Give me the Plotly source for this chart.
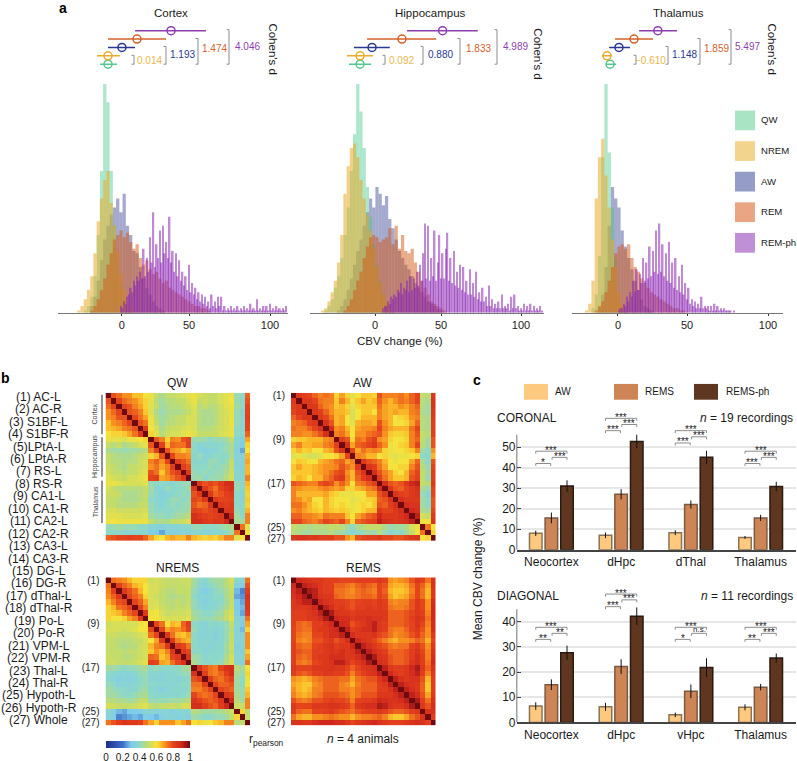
import plotly.graph_objects as go

W, H = 797, 761

STATES = ["QW", "NREM", "AW", "REM", "REM-ph"]
STATE_FILL = ["rgb(70,200,140)", "rgb(232,170,40)", "rgb(30,40,130)", "rgb(212,85,20)", "rgb(140,40,180)"]
STATE_ALPHA = [0.45, 0.55, 0.4, 0.5, 0.55]
STATE_LINE = ["#55C68F", "#E9AC2F", "#2B3990", "#D4622A", "#8E3FB0"]
DRAW_ORDER = [2, 0, 1, 3, 4]
BIN_WIDTH = [2, 2, 2, 2, 1]

# histograms, height relative to tallest bar; *_X0 is the first bin
CTX_X0 = [-14, -18, -10, -10, 8]
CTX_QW = [1, 3, 7, 16, 34, 62, 100, 92, 62, 38, 24, 13, 6, 3, 1]
CTX_NREM = [1, 3, 6, 10, 16, 26, 40, 50, 58, 62, 48, 38, 27, 17, 10, 5, 2, 1]
CTX_AW = [3, 7, 14, 23, 32, 38, 43, 46, 50, 44, 52, 38, 34, 27, 26, 20, 15, 11, 8, 5, 3, 2, 1]
CTX_REM = [1, 3, 6, 10, 15, 21, 26, 32, 34, 36, 33, 35, 31, 28, 30, 24, 21, 23, 19, 17, 18, 15, 13, 14, 11, 10, 9, 8, 7, 6, 5, 4, 3, 3, 2, 2, 1]
CTX_PH = [3, 2, 5, 4, 7, 8, 11, 9, 14, 12, 16, 14, 18, 15, 28, 16, 24, 18, 33, 22, 44, 20, 30, 24, 36, 22, 38, 26, 31,
          24, 42, 22, 27, 18, 26, 16, 23, 14, 18, 12, 16, 10, 21, 9, 13, 8, 11, 6, 9, 5, 8, 4, 7,
          3, 5, 2, 8, 3, 5, 2, 7, 3, 7, 1, 3, 1, 2, 1, 3, 1, 2, 1, 3, 1, 2, 1, 3, 1, 2, 1, 4, 1, 2,
          1, 6, 1, 2, 1, 3, 1, 3, 1, 4, 1, 2, 1, 3, 1, 2, 1, 2, 1, 3]

HIP_X0 = [-22, -24, -14, -10, 14]
HIP_QW = [1, 3, 6, 11, 16, 24, 34, 46, 62, 78, 100, 88, 72, 55, 42, 30, 21, 14, 9, 5, 3, 1]
HIP_NREM = [1, 2, 5, 9, 14, 22, 34, 52, 64, 72, 74, 68, 58, 50, 43, 36, 28, 20, 13, 8, 5, 3, 1]
HIP_AW = [1, 3, 6, 10, 15, 21, 27, 32, 38, 44, 50, 46, 55, 52, 47, 51, 41, 37, 32, 27, 24, 21, 19, 16, 13, 11, 9, 7, 5, 4, 3, 2, 1]
HIP_REM = [1, 3, 6, 10, 14, 18, 24, 29, 33, 34, 33, 31, 32, 33, 37, 30, 38, 28, 34, 27, 26, 28, 22, 18, 14, 11, 8, 5, 4, 3, 2, 1]
HIP_PH = [2, 3, 3, 5, 4, 7, 6, 8, 7, 10, 9, 13, 8, 11, 10, 14, 9, 16, 10, 15, 11, 18, 12, 21, 14, 26, 39,
          15, 38, 14, 24, 16, 36, 14, 22, 34, 15, 26, 15, 28, 35, 14, 24, 13, 27, 12, 18,
          11, 21, 10, 20, 9, 14, 8, 19, 8, 13, 7, 18, 6, 9, 5, 11, 5, 7, 3, 12,
          3, 6, 2, 4, 2, 5, 2, 8, 2, 3, 2, 4, 1, 7, 2, 8, 2, 3, 1, 2,
          1, 4, 1, 3, 1, 4, 1, 3, 1, 2, 1, 3, 1]

THA_X0 = [-8, -12, -4, -6, 8]
THA_QW = [2, 8, 25, 68, 100, 70, 46, 24, 8, 3, 1]
THA_NREM = [1, 4, 14, 50, 68, 76, 60, 46, 32, 20, 9, 4, 1]
THA_AW = [2, 8, 20, 38, 55, 50, 46, 36, 29, 24, 19, 14, 10, 6, 3, 2, 1]
THA_REM = [1, 3, 5, 9, 14, 20, 26, 29, 30, 28, 30, 24, 20, 18, 15, 13, 11, 9, 8, 7, 6, 5, 4, 3, 2, 2, 1, 1]
THA_PH = [1, 2, 2, 4, 3, 7, 5, 9, 7, 14, 9, 19, 10, 17, 13, 24, 14, 22, 15, 29, 16, 27, 18, 36, 17, 39, 18, 30,
          16, 26, 14, 31, 13, 22, 11, 24, 10, 16, 9, 21, 8, 13, 6, 11, 4, 6, 3, 5,
          2, 4, 2, 7, 2, 3, 2, 3, 1, 3, 1, 4, 1, 3, 1, 2, 1, 2, 1, 1, 1, 1, 0, 1, 0]

# mean and spread above each histogram, QW first
RANKS = [1, 2, 3, 4, 5]
CTX_MEAN = [0, 0, 8.6, 17.9, 38.9]
CTX_LOW = [-4.9, -6.8, 0, 0, 16.7]
CTX_HIGH = [5.6, 7.4, 16.7, 35.8, 60.5]
HIP_MEAN = [-0.6, -0.6, 6.9, 25.6, 51]
HIP_LOW = [-7.5, -8.8, -4.4, 3.8, 28.8]
HIP_HIGH = [6.3, 7.5, 18, 47, 73]
THA_MEAN = [2.5, 0.6, 8, 17.3, 32]
THA_LOW = [0, -2.5, 1.9, 5.6, 20.4]
THA_HIGH = [6.2, 3.7, 14.8, 29, 43.8]

CTX_D = ["0.014", "1.193", "1.474", "4.046"]
HIP_D = ["0.092", "0.880", "1.833", "4.989"]
THA_D = ["\u22120.610", "1.148", "1.859", "5.497"]

REGIONS = ["(1) AC-L", "(2) AC-R", "(3) S1BF-L", "(4) S1BF-R", "(5)LPtA-L", "(6) LPtA-R", "(7) RS-L", "(8) RS-R",
           "(9) CA1-L", "(10) CA1-R", "(11) CA2-L", "(12) CA2-R", "(13) CA3-L", "(14) CA3-R", "(15) DG-L", "(16) DG-R",
           "(17) dThal-L", "(18) dThal-R", "(19) Po-L", "(20) Po-R", "(21) VPM-L", "(22) VPM-R", "(23) Thal-L",
           "(24) Thal-R", "(25) Hypoth-L", "(26) Hypoth-R", "(27) Whole"]
ROW_TICKS = [0, 8, 16, 24, 26]
ROW_TICK_TEXT = ["(1)", "(9)", "(17)", "(25)", "(27)"]

# correlation x 100, lower triangle, read cell by cell
QW_TRI = [
    [100],
    [78, 100],
    [75, 80, 100],
    [70, 75, 80, 100],
    [70, 72, 78, 78, 100],
    [65, 70, 72, 76, 80, 100],
    [65, 66, 68, 72, 74, 78, 100],
    [60, 62, 62, 64, 68, 74, 84, 100],
    [58, 57, 56, 55, 58, 58, 60, 62, 100],
    [50, 48, 50, 46, 48, 50, 54, 56, 78, 100],
    [46, 44, 44, 42, 44, 44, 46, 48, 72, 82, 100],
    [50, 48, 46, 46, 46, 48, 50, 52, 62, 66, 78, 100],
    [50, 48, 48, 46, 48, 48, 52, 54, 72, 76, 70, 80, 100],
    [52, 50, 48, 46, 50, 50, 52, 54, 70, 74, 68, 72, 82, 100],
    [54, 50, 50, 48, 50, 50, 54, 56, 78, 74, 64, 72, 78, 82, 100],
    [56, 54, 52, 50, 54, 54, 56, 58, 80, 82, 68, 70, 74, 78, 84, 100],
    [58, 58, 56, 54, 54, 54, 54, 56, 42, 40, 40, 38, 38, 40, 42, 42, 100],
    [54, 50, 48, 48, 48, 48, 48, 50, 44, 36, 36, 42, 38, 40, 40, 44, 84, 100],
    [52, 52, 50, 46, 46, 46, 48, 50, 42, 38, 34, 36, 38, 40, 42, 40, 78, 84, 100],
    [50, 50, 48, 46, 46, 46, 48, 50, 40, 38, 36, 38, 42, 42, 40, 42, 80, 78, 84, 100],
    [50, 50, 48, 48, 48, 48, 50, 50, 42, 38, 36, 40, 42, 40, 42, 42, 78, 74, 76, 84, 100],
    [54, 54, 52, 52, 52, 52, 52, 54, 42, 40, 40, 40, 40, 42, 42, 44, 82, 80, 78, 80, 84, 100],
    [56, 56, 56, 54, 54, 54, 54, 56, 44, 42, 42, 40, 42, 44, 46, 48, 88, 84, 82, 80, 82, 84, 100],
    [58, 60, 58, 58, 58, 58, 58, 58, 50, 46, 46, 46, 50, 50, 52, 54, 88, 88, 84, 82, 84, 84, 90, 100],
    [42, 42, 44, 42, 42, 42, 40, 40, 36, 36, 34, 36, 36, 36, 38, 38, 42, 42, 40, 40, 40, 42, 44, 46, 100],
    [40, 40, 40, 38, 38, 38, 38, 38, 32, 30, 26, 34, 34, 34, 36, 36, 38, 38, 36, 36, 38, 38, 40, 44, 74, 100],
    [76, 78, 80, 80, 82, 80, 80, 76, 68, 62, 60, 66, 68, 66, 66, 72, 66, 64, 62, 64, 62, 66, 72, 72, 56, 60, 100],
]

AW_TRI = [
    [100],
    [84, 100],
    [82, 84, 100],
    [80, 84, 84, 100],
    [76, 80, 84, 84, 100],
    [72, 74, 76, 82, 84, 100],
    [74, 72, 72, 76, 80, 86, 100],
    [72, 72, 70, 70, 74, 78, 88, 100],
    [62, 64, 64, 66, 66, 66, 70, 72, 100],
    [68, 72, 66, 66, 68, 68, 72, 74, 82, 100],
    [62, 66, 62, 64, 60, 60, 66, 68, 78, 86, 100],
    [56, 58, 56, 54, 54, 56, 60, 60, 62, 68, 80, 100],
    [60, 64, 62, 60, 60, 66, 68, 70, 74, 76, 68, 72, 100],
    [64, 68, 64, 64, 66, 68, 70, 70, 72, 78, 74, 70, 84, 100],
    [64, 64, 64, 64, 66, 68, 70, 74, 78, 80, 70, 66, 78, 86, 100],
    [62, 66, 64, 60, 66, 66, 72, 76, 82, 84, 72, 66, 76, 82, 88, 100],
    [78, 76, 74, 72, 72, 78, 80, 78, 70, 76, 70, 60, 72, 74, 78, 82, 100],
    [72, 70, 68, 68, 68, 70, 72, 70, 68, 70, 62, 62, 66, 68, 72, 74, 88, 100],
    [72, 66, 66, 66, 66, 66, 68, 64, 62, 58, 58, 58, 60, 60, 68, 68, 78, 84, 100],
    [72, 70, 66, 68, 60, 60, 66, 62, 60, 60, 60, 56, 58, 60, 62, 64, 76, 78, 86, 100],
    [74, 74, 70, 66, 62, 60, 66, 62, 60, 62, 60, 58, 60, 62, 60, 64, 78, 76, 82, 88, 100],
    [70, 72, 68, 66, 64, 62, 66, 64, 62, 64, 62, 58, 60, 62, 66, 66, 84, 80, 80, 84, 88, 100],
    [76, 76, 72, 72, 70, 68, 74, 72, 72, 72, 64, 60, 68, 72, 76, 78, 90, 84, 84, 84, 86, 90, 100],
    [80, 80, 76, 74, 72, 76, 80, 78, 76, 80, 72, 62, 76, 78, 80, 82, 92, 88, 86, 84, 86, 88, 92, 100],
    [50, 48, 48, 46, 48, 48, 48, 50, 50, 48, 44, 40, 46, 48, 50, 50, 50, 46, 42, 44, 44, 46, 54, 58, 100],
    [48, 46, 44, 44, 46, 46, 46, 48, 44, 44, 40, 38, 40, 42, 44, 42, 48, 42, 38, 40, 40, 44, 50, 60, 74, 100],
    [84, 86, 86, 84, 84, 82, 82, 82, 78, 78, 70, 66, 78, 80, 82, 82, 84, 80, 80, 78, 78, 80, 84, 86, 60, 62, 100],
]

NREMS_TRI = [
    [100],
    [74, 100],
    [72, 82, 100],
    [70, 76, 84, 100],
    [66, 72, 78, 80, 100],
    [62, 66, 74, 76, 80, 100],
    [62, 64, 66, 72, 76, 80, 100],
    [62, 60, 60, 62, 68, 72, 84, 100],
    [52, 54, 54, 54, 54, 54, 58, 60, 100],
    [54, 54, 54, 52, 54, 56, 60, 60, 80, 100],
    [52, 52, 50, 50, 50, 52, 54, 56, 74, 80, 100],
    [50, 50, 48, 48, 48, 50, 50, 54, 60, 68, 84, 100],
    [50, 50, 48, 46, 48, 48, 52, 54, 66, 72, 74, 84, 100],
    [50, 50, 50, 48, 50, 50, 52, 54, 64, 70, 66, 72, 84, 100],
    [52, 50, 50, 48, 48, 50, 52, 54, 76, 74, 64, 68, 80, 84, 100],
    [52, 52, 50, 50, 50, 52, 54, 56, 82, 80, 68, 66, 74, 80, 86, 100],
    [44, 44, 42, 40, 42, 42, 44, 46, 40, 42, 40, 40, 40, 40, 44, 46, 100],
    [40, 38, 36, 36, 36, 38, 42, 42, 38, 38, 36, 38, 38, 40, 42, 42, 86, 100],
    [38, 36, 32, 36, 34, 36, 40, 42, 36, 36, 36, 38, 38, 36, 38, 40, 78, 82, 100],
    [42, 40, 36, 36, 36, 38, 40, 42, 40, 38, 38, 38, 36, 38, 40, 40, 74, 74, 82, 100],
    [44, 42, 40, 40, 38, 38, 42, 44, 38, 36, 34, 36, 38, 38, 38, 40, 72, 72, 76, 80, 100],
    [44, 44, 42, 40, 40, 42, 44, 46, 40, 38, 38, 38, 38, 38, 40, 42, 80, 76, 74, 76, 80, 100],
    [48, 48, 46, 46, 44, 46, 50, 50, 42, 42, 42, 42, 44, 44, 46, 48, 86, 82, 78, 76, 78, 84, 100],
    [54, 52, 50, 50, 50, 52, 54, 56, 50, 48, 50, 50, 52, 50, 54, 54, 88, 88, 82, 78, 76, 82, 90, 100],
    [38, 34, 28, 26, 30, 30, 32, 36, 38, 36, 36, 36, 34, 36, 36, 38, 48, 46, 44, 44, 44, 46, 48, 52, 100],
    [36, 32, 22, 24, 26, 28, 26, 32, 30, 28, 34, 36, 36, 34, 36, 34, 44, 42, 40, 40, 42, 42, 44, 50, 62, 100],
    [74, 78, 82, 86, 84, 84, 82, 74, 68, 62, 70, 70, 70, 64, 68, 74, 60, 62, 58, 60, 64, 66, 72, 72, 48, 50, 100],
]

REMS_TRI = [
    [100],
    [90, 100],
    [88, 92, 100],
    [86, 90, 94, 100],
    [84, 88, 92, 92, 100],
    [84, 84, 84, 86, 90, 100],
    [82, 82, 82, 84, 86, 92, 100],
    [82, 82, 82, 84, 84, 88, 94, 100],
    [82, 76, 74, 76, 82, 82, 86, 90, 100],
    [80, 76, 74, 74, 82, 84, 84, 88, 90, 100],
    [80, 74, 72, 72, 80, 80, 84, 88, 88, 92, 100],
    [80, 72, 70, 72, 78, 78, 82, 84, 78, 82, 88, 100],
    [82, 76, 74, 74, 80, 82, 84, 86, 82, 84, 84, 90, 100],
    [82, 78, 76, 76, 82, 82, 84, 86, 84, 88, 84, 86, 92, 100],
    [82, 76, 74, 76, 82, 84, 84, 88, 88, 88, 84, 84, 88, 92, 100],
    [82, 74, 72, 74, 80, 82, 84, 86, 92, 92, 86, 80, 84, 88, 94, 100],
    [84, 80, 80, 80, 84, 84, 84, 86, 84, 84, 80, 76, 80, 84, 86, 88, 100],
    [82, 78, 76, 78, 82, 82, 84, 84, 82, 82, 78, 72, 78, 82, 84, 86, 92, 100],
    [70, 68, 66, 68, 72, 74, 76, 76, 76, 74, 74, 68, 74, 76, 78, 78, 84, 90, 100],
    [68, 66, 64, 64, 70, 72, 76, 76, 76, 72, 70, 66, 72, 76, 76, 76, 82, 84, 92, 100],
    [70, 66, 64, 66, 72, 72, 76, 76, 76, 72, 72, 70, 74, 76, 76, 76, 82, 82, 86, 92, 100],
    [72, 68, 66, 68, 72, 74, 78, 78, 78, 76, 74, 70, 74, 78, 78, 78, 84, 84, 84, 88, 92, 100],
    [78, 74, 72, 74, 78, 78, 80, 82, 80, 80, 78, 72, 80, 82, 82, 84, 90, 88, 86, 86, 88, 92, 100],
    [84, 80, 80, 80, 84, 84, 84, 86, 86, 84, 82, 76, 84, 86, 88, 88, 94, 92, 86, 84, 84, 88, 94, 100],
    [82, 76, 74, 74, 80, 80, 82, 84, 80, 78, 76, 74, 78, 80, 82, 82, 84, 82, 78, 76, 76, 78, 82, 84, 100],
    [74, 68, 66, 66, 70, 70, 72, 74, 72, 70, 70, 66, 70, 72, 72, 74, 76, 72, 66, 64, 64, 68, 74, 78, 86, 100],
    [86, 86, 84, 84, 88, 90, 90, 90, 88, 88, 84, 80, 84, 86, 88, 90, 86, 84, 82, 82, 82, 84, 86, 88, 86, 82, 100],
]

CBAR_TICKS = [0, 0.2, 0.4, 0.6, 0.8, 1]
CBAR_TEXT = ["0", "0.2", "0.4", "0.6", "0.8", "1"]
HEAT_SCALE = [[0, "#1B2E8C"], [0.2, "#3E6FC8"], [0.3, "#7FCBEA"], [0.4, "#8ED8C8"], [0.5, "#C3DC6A"],
              [0.6, "#F5E23C"], [0.65, "#FBC02A"], [0.7, "#F89020"], [0.75, "#EE6A1E"], [0.8, "#E4441C"],
              [0.9, "#D0281C"], [1, "#6E0A10"]]

# panel c
COR_REGIONS = ["Neocortex", "dHpc", "dThal", "Thalamus"]
COR_AW = [8, 7, 8.3, 6]
COR_REMS = [15.5, 27, 22, 15.5]
COR_PH = [31, 52.7, 45, 30.8]
COR_AW_ERR = [1.3, 1.4, 1.2, 0.7]
COR_REMS_ERR = [2.6, 2.5, 2, 1.5]
COR_PH_ERR = [2.8, 3.3, 3.2, 2.3]
DIA_REGIONS = ["Neocortex", "dHpc", "vHpc", "Thalamus"]
DIA_AW = [6.5, 6.2, 3, 6]
DIA_REMS = [15, 22.2, 12.4, 14]
DIA_PH = [27.7, 42.2, 21.8, 25.6]
DIA_AW_ERR = [1.5, 1.6, 0.9, 1.2]
DIA_REMS_ERR = [2.1, 2.9, 2.7, 1.3]
DIA_PH_ERR = [2.8, 3.5, 3.7, 1.8]

# bracket heights per group: AW-ph, AW-REMS, REMS-ph
COR_LEVELS = [[48, 42, 45], [64, 58, 61], [58, 52, 55], [48, 42, 45]]
COR_STARS = [["***", "*", "***"], ["***", "***", "***"], ["***", "***", "***"], ["***", "***", "***"]]
DIA_LEVELS = [[37.8, 33, 35.4], [51, 46, 48.7], [37.8, 33, 35.4], [37.8, 33, 35.4]]
DIA_STARS = [["***", "**", "**"], ["***", "***", "***"], ["***", "*", "n.s."], ["***", "**", "***"]]

BAR_NAMES = ["AW", "REMS", "REMS-ph"]
BAR_FILL = ["#FDC97E", "#CE8556", "#5F3720"]
BAR_EDGE = ["#8A7355", "#7A5A42", "#2A1A10"]

FONT = "Liberation Sans"
INK = "#1a1a1a"


def xp(px):
    return px / W


def yp(py):
    return 1 - py / H


def full_matrix(tri):
    n = len(tri)
    return [[(tri[max(i, j)][min(i, j)]) / 100 for j in range(n)] for i in range(n)]


fig = go.Figure()
shapes = []
notes = []


def label(x, y, text, size=11.5, color=INK, anchor="center", angle=0):
    notes.append(dict(x=xp(x), y=yp(y), xref="paper", yref="paper", text=text, showarrow=False,
                      font=dict(size=size, color=color, family=FONT), xanchor=anchor, yanchor="middle",
                      textangle=angle))


def d_bracket(x, y0, y1):
    path = f"M {xp(x - 2.5)} {yp(y0)} L {xp(x)} {yp(y0)} L {xp(x)} {yp(y1)} L {xp(x - 2.5)} {yp(y1)}"
    shapes.append(dict(type="path", path=path, xref="paper", yref="paper", line=dict(color="#8c8c8c", width=1)))


# panel a
panels = [
    ("Cortex", 1, [58, 288], 108, 1.62, 8.6, [CTX_QW, CTX_NREM, CTX_AW, CTX_REM, CTX_PH], CTX_X0, CTX_MEAN, CTX_LOW, CTX_HIGH),
    ("Hippocampus", 2, [310, 544], 361, 1.60, 8.75, [HIP_QW, HIP_NREM, HIP_AW, HIP_REM, HIP_PH], HIP_X0, HIP_MEAN, HIP_LOW, HIP_HIGH),
    ("Thalamus", 3, [572, 783], 606, 1.62, 7.4, [THA_QW, THA_NREM, THA_AW, THA_REM, THA_PH], THA_X0, THA_MEAN, THA_LOW, THA_HIGH),
]
for name, k, span, zero_px, scale, zero_tick, hists, starts, mean, low, high in panels:
    xname = "x" if k == 1 else f"x{k}"
    yhist = "y" if k == 1 else f"y{2 * k - 1}"
    ymean = f"y{2 * k}"
    for s in DRAW_ORDER:
        values = hists[s]
        fig.add_trace(go.Bar(x=[starts[s] + BIN_WIDTH[s] * i for i in range(len(values))], y=values, width=BIN_WIDTH[s],
                             marker=dict(color=STATE_FILL[s], opacity=STATE_ALPHA[s], line=dict(width=0)),
                             xaxis=xname, yaxis=yhist, showlegend=False))
    for s in range(5):
        fig.add_trace(go.Scatter(x=[mean[s]], y=[RANKS[s]], mode="markers", xaxis=xname, yaxis=ymean, showlegend=False,
                                 marker=dict(symbol="circle-open", size=8, color=STATE_LINE[s],
                                             line=dict(width=1.5, color=STATE_LINE[s])),
                                 error_x=dict(type="data", symmetric=False, array=[high[s] - mean[s]],
                                              arrayminus=[mean[s] - low[s]], thickness=1.5, width=0, color=STATE_LINE[s])))
    x_low = (span[0] - zero_px) / scale
    x_high = (span[1] - zero_px) / scale
    xkey = "xaxis" if k == 1 else f"xaxis{k}"
    ykey = "yaxis" if k == 1 else f"yaxis{2 * k - 1}"
    fig.update_layout({
        xkey: dict(domain=[xp(span[0]), xp(span[1])], range=[x_low, x_high], anchor=yhist, showgrid=False, zeroline=False,
                   showline=True, linecolor="#777777", linewidth=1, ticks="outside", ticklen=2, tickcolor="#333333",
                   tickvals=[zero_tick, 50, 100], ticktext=["0", "50", "100"], tickfont=dict(size=11, color=INK)),
        ykey: dict(domain=[yp(314), yp(82)], range=[0, 100], visible=False, anchor=xname),
        f"yaxis{2 * k}": dict(domain=[yp(70.5), yp(19.5)], range=[0, 6], visible=False, anchor=xname),
    })

label(171, 10, "Cortex")
label(430, 10, "Hippocampus")
label(678, 10, "Thalamus")
label(400, 342, "CBV change (%)")
label(62.5, 5, "<b>a</b>", size=14, color="#000000")
label(5, 380, "<b>b</b>", size=14, color="#000000")
label(477, 382, "<b>c</b>", size=14, color="#000000")

d_text = [
    (CTX_D, [149, 182, 214, 247], [134, 166, 198, 229], 273, 46),
    (HIP_D, [401, 441, 478, 515], [385, 423, 460, 497], 538, 51),
    (THA_D, [650, 684, 716, 747], [636, 668, 700, 731], 772, 46),
]
D_Y = [58, 52, 46, 44]
D_TOP = [53, 44, 36, 27]
for texts, text_x, bracket_x, cohen_x, cohen_y in d_text:
    for i in range(4):
        label(text_x[i], D_Y[i], texts[i], size=10, color=STATE_LINE[i + 1] if i else "#E9B84A")
        d_bracket(bracket_x[i], D_TOP[i], 62)
    label(cohen_x, cohen_y, "Cohen's d", angle=90)

legend_a_y = [109, 140, 171, 202, 233]
legend_a_fill = ["#A9E4C4", "#F3D48D", "#959CC7", "#EAA585", "#C08FD6"]
for i, state in enumerate(STATES):
    shapes.append(dict(type="rect", xref="paper", yref="paper", x0=xp(735), x1=xp(755), y0=yp(legend_a_y[i]),
                       y1=yp(legend_a_y[i] + 20), fillcolor=legend_a_fill[i], line=dict(width=0)))
    label(759, legend_a_y[i] + 9.5, state, size=9.6, anchor="left")

# panel b
heat_panels = [
    ("QW", QW_TRI, 4, 105.5, 395, False),
    ("AW", AW_TRI, 5, 291, 395, True),
    ("NREMS", NREMS_TRI, 6, 105.5, 582, True),
    ("REMS", REMS_TRI, 7, 291, 582, True),
]
for name, tri, k, left, top, show_rows in heat_panels:
    colorbar = dict(orientation="h", x=xp(106), xanchor="left", y=yp(748), yanchor="top", len=84, lenmode="pixels",
                    thickness=7, thicknessmode="pixels", tickvals=CBAR_TICKS, ticktext=CBAR_TEXT, outlinewidth=0,
                    ticks="", xpad=0, ypad=0, tickfont=dict(size=10, color=INK))
    fig.add_trace(go.Heatmap(z=full_matrix(tri), zmin=0, zmax=1, zsmooth=False, colorscale=HEAT_SCALE,
                             xaxis=f"x{k}", yaxis=f"y{k + 3}", showscale=k == 4, colorbar=colorbar))
    fig.update_layout({
        f"xaxis{k}": dict(domain=[xp(left), xp(left + 144.5)], range=[-0.5, 26.5], visible=False, anchor=f"y{k + 3}"),
        f"yaxis{k + 3}": dict(domain=[yp(top + 150), yp(top)], range=[26.5, -0.5], anchor=f"x{k}", showgrid=False, zeroline=False,
                              showline=False, ticks="outside", ticklen=3, tickcolor="rgba(0,0,0,0)",
                              tickvals=ROW_TICKS if show_rows else [], ticktext=ROW_TICK_TEXT if show_rows else [],
                              tickfont=dict(size=10, color=INK)),
    })
    label(left + 72, top - 10 if top == 395 else top - 9, name, size=12)

for i, region in enumerate(REGIONS):
    label(38.5, 399 + i * 12.61, region, size=12)

for text, y_mid, y0, y1 in [("Cortex", 417, 397, 437), ("Hippocampus", 460, 440, 480), ("Thalamus", 506, 484, 527)]:
    label(95, y_mid, text, size=7, color="#444444", angle=-90)
    shapes.append(dict(type="line", xref="paper", yref="paper", x0=xp(102), x1=xp(102), y0=yp(y0), y1=yp(y1),
                       line=dict(color="#222222", width=1)))

label(247, 747, "r<sub>pearson</sub>", size=12, anchor="left")
label(363, 746, "<i>n</i> = 4 animals", size=12)

# panel c
bar_panels = [
    (8, 12, COR_REGIONS, [COR_AW, COR_REMS, COR_PH], [COR_AW_ERR, COR_REMS_ERR, COR_PH_ERR], COR_LEVELS, COR_STARS,
     554, 2.08, 68, 56, [0, 10, 20, 30, 40, 50], 1.2),
    (9, 13, DIA_REGIONS, [DIA_AW, DIA_REMS, DIA_PH], [DIA_AW_ERR, DIA_REMS_ERR, DIA_PH_ERR], DIA_LEVELS, DIA_STARS,
     729, 2.55, 54, 45, [0, 10, 20, 30, 40], 1.0),
]
STEP = 0.224
for k, yk, regions, series, errors, levels, stars, base_px, px_per, y_top, y_line, yticks, drop in bar_panels:
    for s in range(3):
        fig.add_trace(go.Bar(x=list(range(4)), y=series[s], name=BAR_NAMES[s], xaxis=f"x{k}", yaxis=f"y{yk}", showlegend=False,
                             width=0.18, offset=(s - 1) * STEP - 0.09,
                             marker=dict(color=BAR_FILL[s], line=dict(color=BAR_EDGE[s], width=1.5)),
                             error_y=dict(type="data", array=errors[s], color="#111111", thickness=1, width=0)))
    fig.update_layout({
        f"xaxis{k}": dict(domain=[xp(516.5), xp(795.5)], range=[-0.5, 3.5], anchor=f"y{yk}", showgrid=False, zeroline=False,
                          showline=True, linecolor="#444444", linewidth=1.5, tickvals=[0, 1, 2, 3], ticktext=regions,
                          ticks="", tickfont=dict(size=12, color=INK)),
        f"yaxis{yk}": dict(domain=[yp(base_px), yp(base_px - y_top * px_per)], range=[0, y_top], anchor=f"x{k}",
                           tickvals=yticks, showgrid=True, gridcolor="#e6e6e6", gridwidth=1.5, zeroline=False,
                           ticks="inside", ticklen=4, tickcolor="#444444", tickfont=dict(size=12, color=INK)),
    })
    xr, yr = f"x{k}", f"y{yk}"
    shapes.append(dict(type="line", xref=xr, yref=yr, x0=-0.5, x1=-0.5, y0=0, y1=y_line, line=dict(color="#444444", width=1.5)))
    for g in range(4):
        spans = [(g - STEP, g + STEP), (g - STEP, g - 0.01), (g + 0.01, g + STEP)]
        for (x0, x1), level, star in zip(spans, levels[g], stars[g]):
            path = f"M {x0} {level - drop} L {x0} {level} L {x1} {level} L {x1} {level - drop}"
            shapes.append(dict(type="path", path=path, xref=xr, yref=yr, line=dict(color="#8c8c8c", width=1)))
            notes.append(dict(x=(x0 + x1) / 2, y=level, xref=xr, yref=yr, text=star, showarrow=False, yanchor="middle",
                              yshift=1 if star != "n.s." else 4, font=dict(size=10 if star != "n.s." else 8, color=INK, family=FONT)))

legend_c = [(524, 553), (614, 643), (694, 724)]
for i, name in enumerate(BAR_NAMES):
    rect_x, text_x = legend_c[i]
    shapes.append(dict(type="rect", xref="paper", yref="paper", x0=xp(rect_x), x1=xp(rect_x + 24), y0=yp(386), y1=yp(402),
                       fillcolor=BAR_FILL[i], line=dict(width=0)))
    label(text_x, 394, name, size=10, anchor="left")

label(495, 421, "CORONAL", size=12, anchor="left")
label(795, 421, "<i>n</i> = 19 recordings", size=12, anchor="right")
label(495, 601, "DIAGONAL", size=12, anchor="left")
label(795, 601, "<i>n</i> = 11 recordings", size=12, anchor="right")
label(478, 584, "Mean CBV change (%)", size=12, angle=-90)

fig.update_layout(
    width=W, height=H, margin=dict(l=0, r=0, t=0, b=0), plot_bgcolor="white", paper_bgcolor="white",
    barmode="overlay", showlegend=False, shapes=shapes, annotations=notes, font=dict(family=FONT, color=INK),
)

fig.write_html("out.html", config=dict(displayModeBar=False),
               post_script="document.body.style.margin='0';document.body.style.overflow='hidden';")
